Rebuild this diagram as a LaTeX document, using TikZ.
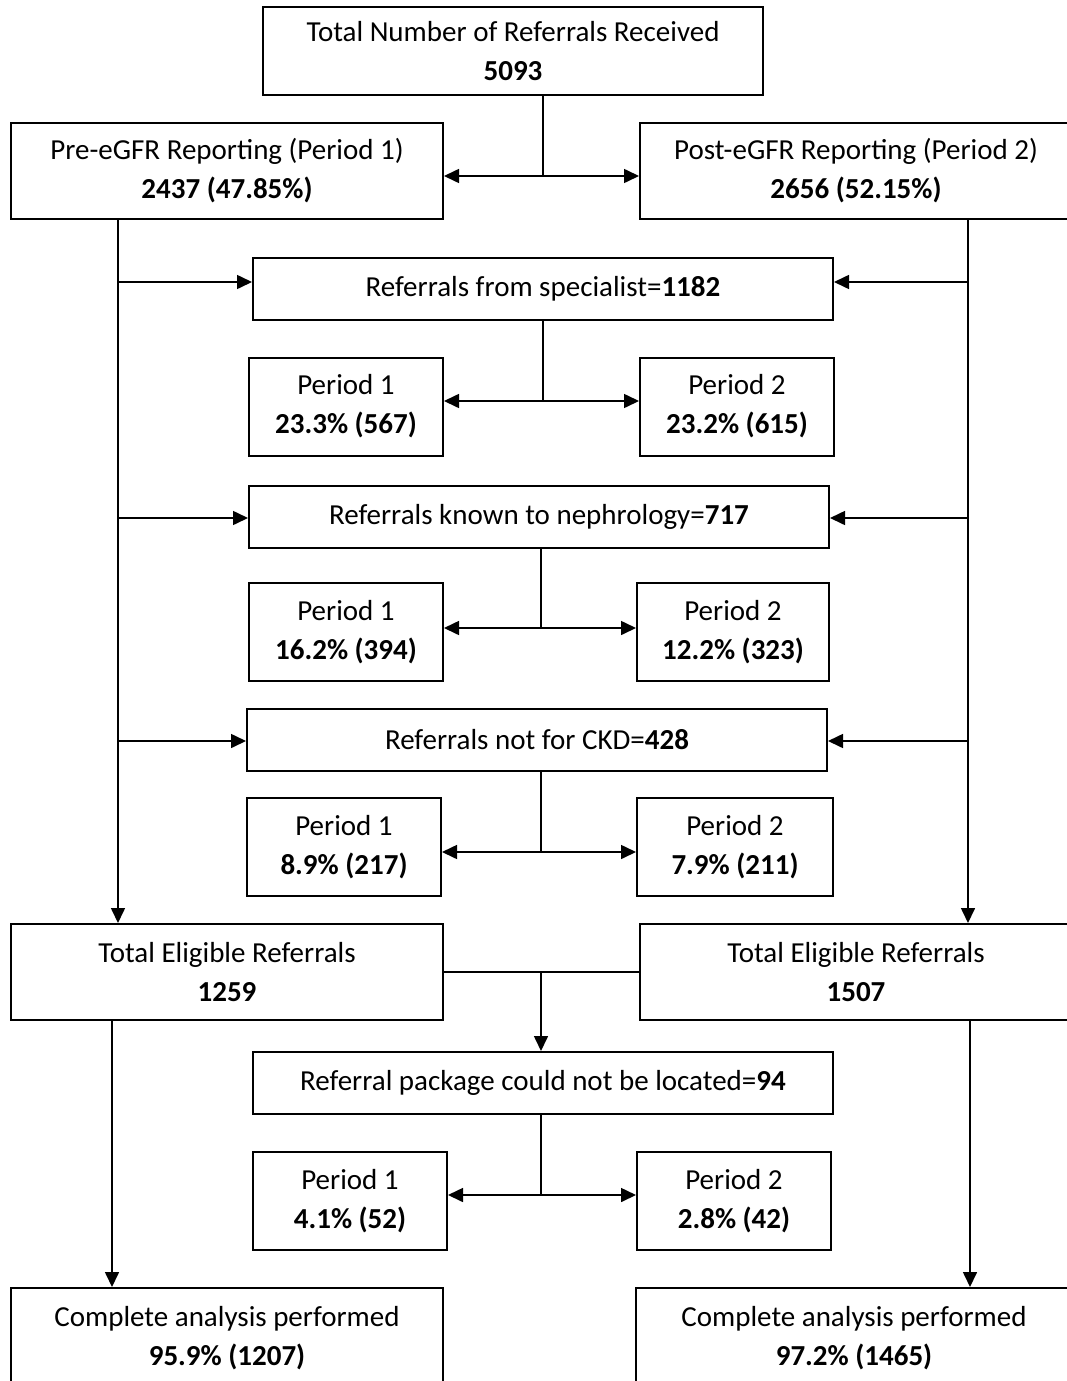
\documentclass[tikz,border=0pt]{standalone}
\usepackage{fontspec}
\setmainfont{Carlito}
\usetikzlibrary{arrows.meta}
\tikzstyle{box}=[draw,line width=2pt,align=center,inner sep=0pt,font=\fontsize{29}{39}\selectfont]
\tikzstyle{wide}=[box,minimum width=580pt,minimum height=62pt]
\tikzstyle{half}=[box,minimum width=432pt,minimum height=96pt]
\tikzstyle{small}=[box,minimum width=194pt,minimum height=98pt]
\tikzstyle{link}=[line width=1.6pt,>={Triangle[length=15pt,width=14pt]}]

\begin{document}
\begin{tikzpicture}[x=1pt,y=-1pt]
\useasboundingbox (0,0) rectangle (1066,1381);
\node[box,minimum width=500pt,minimum height=88pt] at (513,51) (total) {Total Number of Referrals Received\\\textbf{5093}};
\node[half] at (227,170.5) (pre) {Pre-eGFR Reporting (Period 1)\\\textbf{2437 (47.85\%)}};
\node[half] at (856,170.5) (post) {Post-eGFR Reporting (Period 2)\\\textbf{2656 (52.15\%)}};
\node[wide] at (543,289) (spec) {Referrals from specialist=\textbf{1182}};
\node[small] at (346,406.5) (spec1) {Period 1\\\textbf{23.3\% (567)}};
\node[small] at (737,406.5) (spec2) {Period 2\\\textbf{23.2\% (615)}};
\node[wide] at (539,517) (neph) {Referrals known to nephrology=\textbf{717}};
\node[small] at (346,632) (neph1) {Period 1\\\textbf{16.2\% (394)}};
\node[small,minimum width=192pt] at (733,632) (neph2) {Period 2\\\textbf{12.2\% (323)}};
\node[wide] at (537,740) (ckd) {Referrals not for CKD=\textbf{428}};
\node[small] at (344,847) (ckd1) {Period 1\\\textbf{8.9\% (217)}};
\node[small,minimum width=196pt] at (735,847) (ckd2) {Period 2\\\textbf{7.9\% (211)}};
\node[half] at (227,972) (elig1) {Total Eligible Referrals\\\textbf{1259}};
\node[half] at (856,972) (elig2) {Total Eligible Referrals\\\textbf{1507}};
\node[wide] at (543,1083) (pkg) {Referral package could not be located=\textbf{94}};
\node[small] at (350,1201) (pkg1) {Period 1\\\textbf{4.1\% (52)}};
\node[small] at (734,1201) (pkg2) {Period 2\\\textbf{2.8\% (42)}};
\node[half,minimum height=100pt] at (227,1338) (done1) {Complete analysis performed\\\textbf{95.9\% (1207)}};
\node[half,minimum width=436pt,minimum height=100pt] at (854,1338) (done2) {Complete analysis performed\\\textbf{97.2\% (1465)}};
% split points
\coordinate (j1) at (543,176);
\coordinate (j2) at (543,401);
\coordinate (j3) at (541,628);
\coordinate (j4) at (541,852);
\coordinate (j5) at (541,972);
\coordinate (j6) at (541,1195);
\coordinate (lx) at (118,0);
\coordinate (rx) at (968,0);
\coordinate (lb) at (112,0);
\coordinate (rb) at (970,0);
\draw[link] (total.south -| j1) -- (j1);
\draw[link,<->] (pre.east |- j1) -- (post.west |- j1);
\draw[link] (spec.south -| j2) -- (j2);
\draw[link,<->] (spec1.east |- j2) -- (spec2.west |- j2);
\draw[link] (neph.south -| j3) -- (j3);
\draw[link,<->] (neph1.east |- j3) -- (neph2.west |- j3);
\draw[link] (ckd.south -| j4) -- (j4);
\draw[link,<->] (ckd1.east |- j4) -- (ckd2.west |- j4);
\draw[link] (elig1.east |- j5) -- (elig2.west |- j5);
\draw[link,->] (j5) -- (pkg.north -| j5);
\draw[link] (pkg.south -| j6) -- (j6);
\draw[link,<->] (pkg1.east |- j6) -- (pkg2.west |- j6);
% side streams
\draw[link,->] (pre.south -| lx) -- (elig1.north -| lx);
\draw[link,->] (post.south -| rx) -- (elig2.north -| rx);
\draw[link,->] (elig1.south -| lb) -- (done1.north -| lb);
\draw[link,->] (elig2.south -| rb) -- (done2.north -| rb);
\draw[link,->] (lx |- 0,282) -- (spec.west |- 0,282);
\draw[link,->] (rx |- 0,282) -- (spec.east |- 0,282);
\draw[link,->] (lx |- 0,518) -- (neph.west |- 0,518);
\draw[link,->] (rx |- 0,518) -- (neph.east |- 0,518);
\draw[link,->] (lx |- 0,741) -- (ckd.west |- 0,741);
\draw[link,->] (rx |- 0,741) -- (ckd.east |- 0,741);
\end{tikzpicture}
\end{document}
